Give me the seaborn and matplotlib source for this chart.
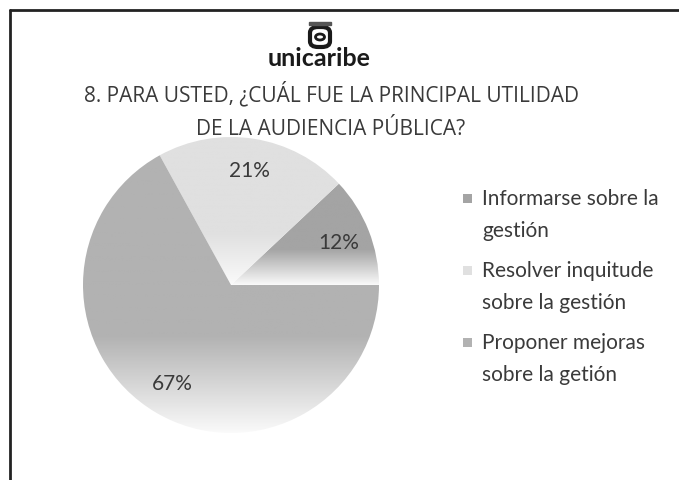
import matplotlib
matplotlib.use("Agg")
from matplotlib import pyplot as plt
from matplotlib.patches import Rectangle, FancyBboxPatch, Ellipse
from matplotlib.colors import LinearSegmentedColormap
import seaborn as sns
import numpy as np

# datos del grafico
labels = ["Informarse sobre la\ngestión",
          "Resolver inquitude\nsobre la gestión",
          "Proponer mejoras\nsobre la getión"]
shares = [12, 21, 67]
colors = ["#a4a4a4", "#e0e0e0", "#b2b2b2"]
title = "8. PARA USTED, ¿CUÁL FUE LA PRINCIPAL UTILIDAD\nDE LA AUDIENCIA PÚBLICA?"

sns.set_style("white")
plt.rcParams["font.family"] = ["Lato", "DejaVu Sans"]
txt = "#3a3a3a"
W, H = 679, 480


def fx(px):
    return px / W


def fy(py):
    return 1 - py / H


fig = plt.figure(figsize=(6.79, 4.8), dpi=100)
ax = fig.add_axes([fx(83), (H - 285 - 148) / H, 296 / W, 296 / H])

wedges, _, autotexts = ax.pie(shares, colors=colors, startangle=0,
                              counterclock=True, autopct="%1.0f%%",
                              pctdistance=0.78, radius=1,
                              textprops=dict(color=txt, fontsize=15))

# degradado vertical hacia blanco en la parte baja de cada porcion
for w, c in zip(wedges, colors):
    bb = w.get_path().get_extents(w.get_patch_transform())
    cmap = LinearSegmentedColormap.from_list(
        "g", [(0, "#fafafa"), (0.35, c), (1, c)])
    grad = np.linspace(0, 1, 256).reshape(-1, 1)
    im = ax.imshow(grad, cmap=cmap, origin="lower", aspect="auto",
                   extent=[bb.x0, bb.x1, bb.y0, bb.y1], zorder=1)
    im.set_clip_path(w)
    w.set_alpha(0)
for t in autotexts:
    t.set_zorder(3)
ax.set_xlim(-1, 1)
ax.set_ylim(-1, 1)
ax.axis("off")

# titulo
fig.text(fx(331), fy(110), title, ha="center", va="center",
         fontsize=15, color=txt, linespacing=1.78,
         family=["Open Sans", "DejaVu Sans"])

# logo
fig.text(fx(319), fy(59), "unicaribe", ha="center", va="center",
         fontsize=18, fontweight="bold", color="#1a1a1a")
fig.add_artist(FancyBboxPatch((fx(310), fy(47)), fx(20), 20 / H,
                              boxstyle="round,pad=0,rounding_size=0.012",
                              transform=fig.transFigure, fc="none",
                              ec="#1a1a1a", lw=3))
fig.add_artist(Rectangle((fx(309), fy(25)), fx(22), 3 / H,
                         transform=fig.transFigure, color="#555555"))
fig.add_artist(Ellipse((fx(320), fy(37)), fx(9), 6 / H,
                       transform=fig.transFigure, fc="none",
                       ec="#1a1a1a", lw=2))

# leyenda
for i, (lab, c) in enumerate(zip(labels, colors)):
    y0 = 189 + 72 * i
    fig.text(fx(482), fy(y0), lab, ha="left", va="top",
             fontsize=15, color=txt, linespacing=1.78,
             transform=fig.transFigure)
    fig.add_artist(Rectangle((fx(463), fy(y0 + 14)), fx(9), 9 / H,
                             transform=fig.transFigure, fc=c, ec="none"))

# marco
fig.add_artist(plt.Line2D([fx(10), 1], [fy(10)] * 2, color="#222222", lw=2))
fig.add_artist(plt.Line2D([fx(10)] * 2, [0, fy(10)], color="#222222", lw=2))

fig.savefig("out.png", dpi=100)
